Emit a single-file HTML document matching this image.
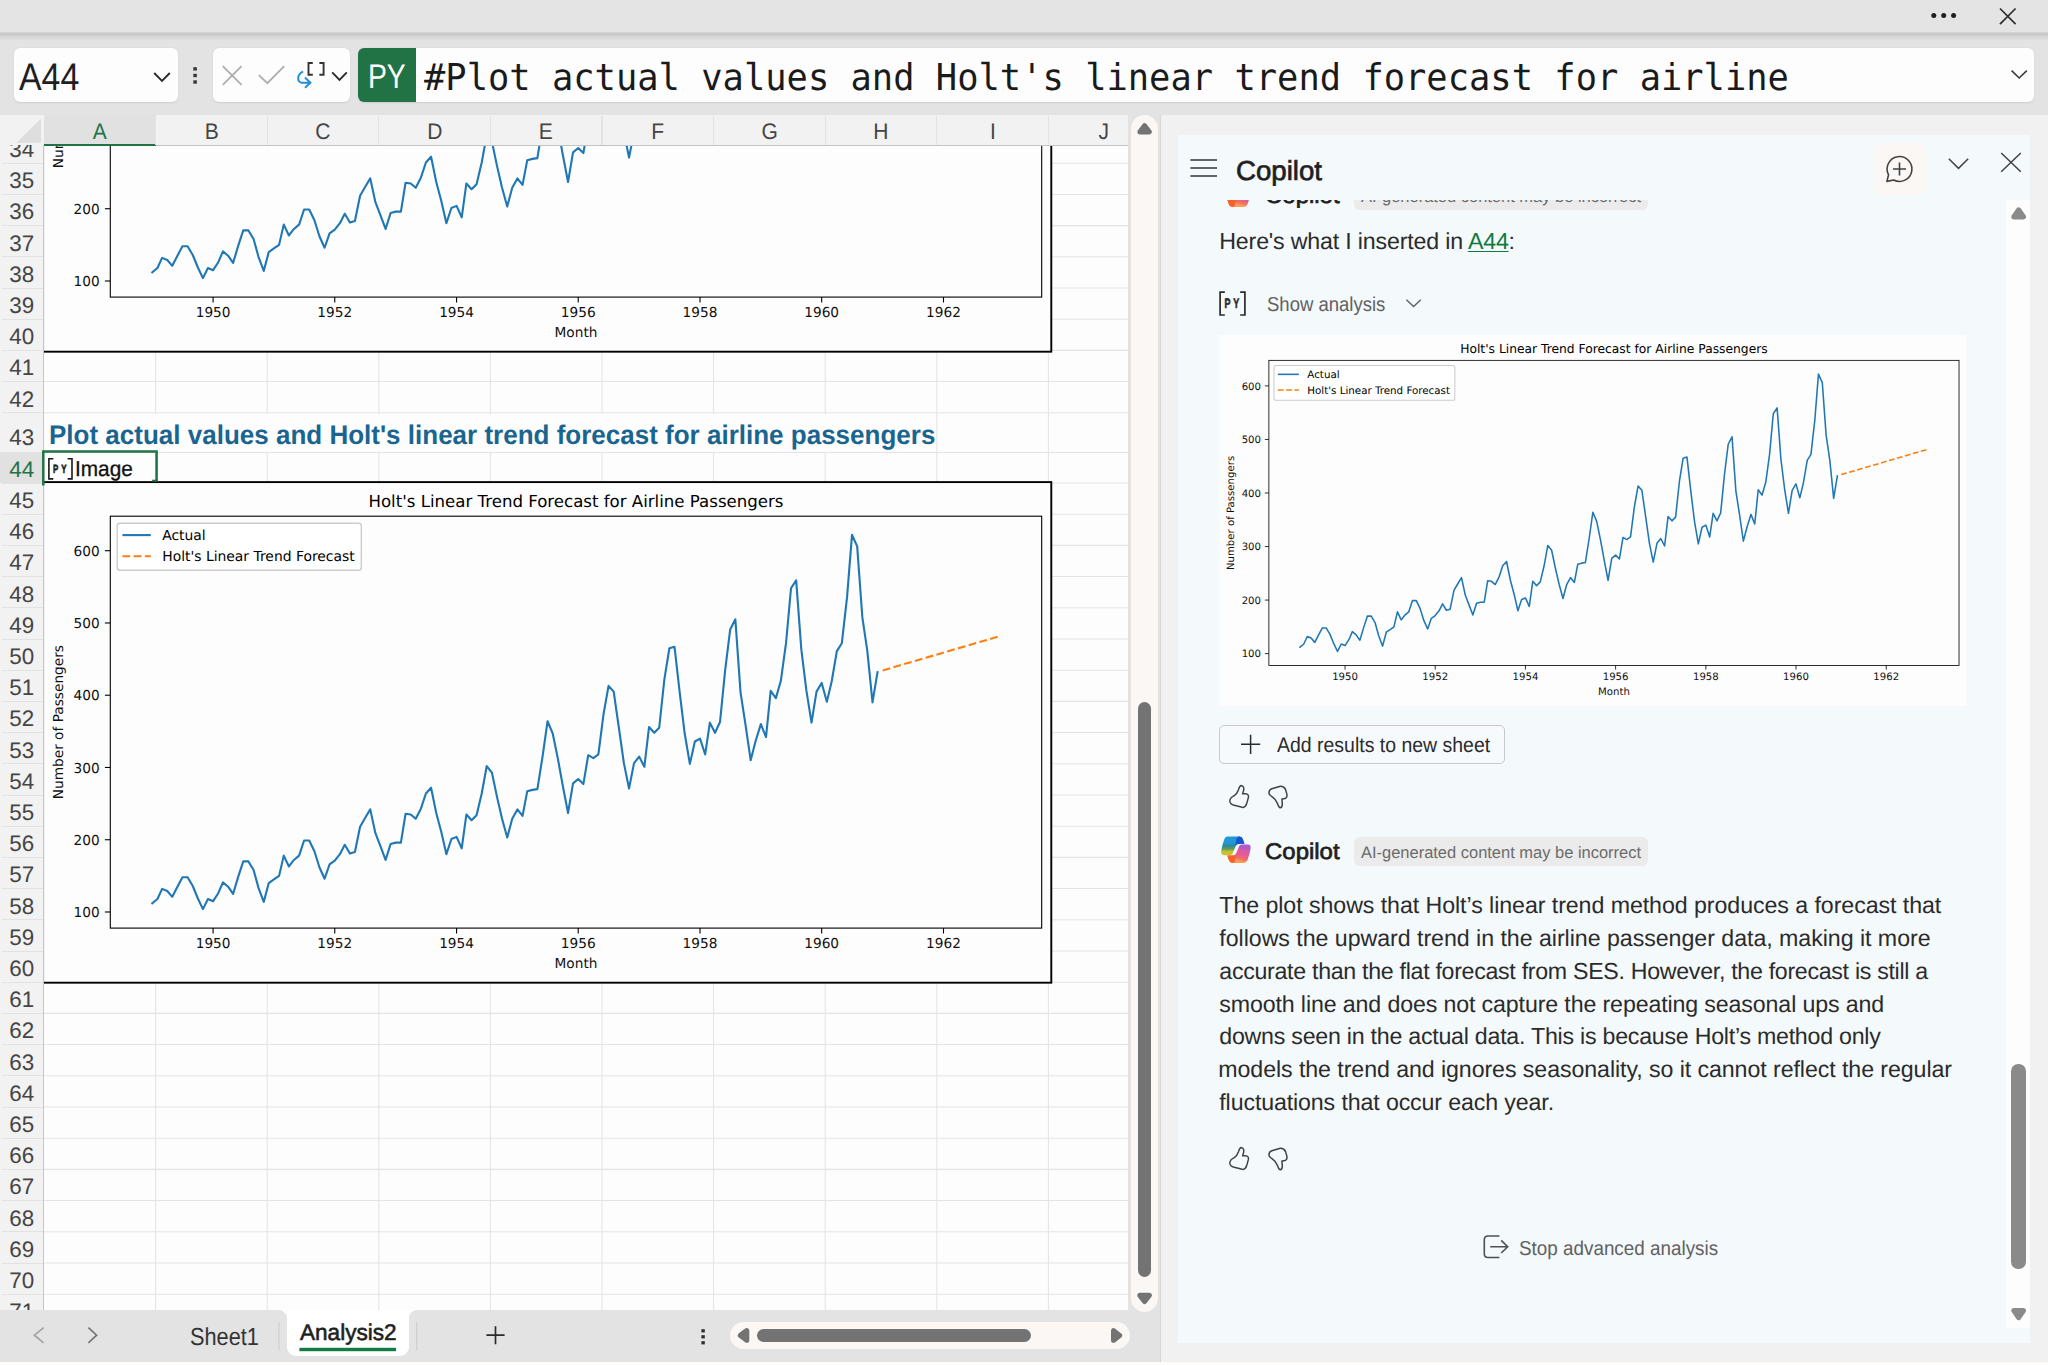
<!DOCTYPE html><html lang="en"><head><meta charset="utf-8"><title>Excel - Copilot</title><style>
*{box-sizing:border-box}
html,body{margin:0;padding:0}
body{width:2048px;height:1365px;overflow:hidden;background:#e3e3e3;font-family:"Liberation Sans", sans-serif;position:relative;color:#242424;text-rendering:geometricPrecision}
.abs{position:absolute}
.t{position:absolute;white-space:pre}
svg{position:absolute;overflow:visible}
</style></head><body>
<div class="abs" style="left:0;top:0;width:2048px;height:33px;background:#e4e4e4"></div>
<div class="abs" style="left:0;top:32.4px;width:2048px;height:8px;background:linear-gradient(#e1e1e1 0%,#c9c9c9 12%,#c8c8c8 40%,#d6d6d6 50%,#dadada 88%,#e3e3e3 100%)"></div>
<svg style="left:1920px;top:0" width="128" height="34" viewBox="1920 0 128 34"><g fill="#1f1f1f"><circle cx="1933.8" cy="15.6" r="2.5"/><circle cx="1943.7" cy="15.6" r="2.5"/><circle cx="1953.6" cy="15.6" r="2.5"/></g><path d="M2000 8.5 L2015.6 24.2 M2015.6 8.5 L2000 24.2" stroke="#2e2e2e" stroke-width="1.7" fill="none"/></svg>
<div class="abs" style="left:14px;top:47.8px;width:164px;height:54.7px;background:#fdfdfd;border-radius:6px;box-shadow:0 0.8px 1.6px rgba(0,0,0,.10)"></div>
<div class="t" style="font-family:'Liberation Sans',sans-serif;font-size:38.4px;line-height:43.00px;color:#1f1f1f;left:19.00px;top:55.75px;transform:scaleX(0.8829);transform-origin:0 0;">A44</div>
<svg style="left:150px;top:68px" width="24" height="18" viewBox="150 68 24 18"><path d="M154.2 73 L162 80.8 L169.8 73" stroke="#2b2b2b" stroke-width="1.9" fill="none"/></svg>
<svg style="left:190px;top:64px" width="10" height="24" viewBox="190 64 10 24"><g fill="#3a3a3a"><rect x="193.3" y="67.2" width="3.6" height="3.4"/><rect x="193.3" y="73.8" width="3.6" height="3.4"/><rect x="193.3" y="80.3" width="3.6" height="3.4"/></g></svg>
<div class="abs" style="left:212.9px;top:47.8px;width:137.2px;height:54.7px;background:#fdfdfd;border-radius:6px;box-shadow:0 0.8px 1.6px rgba(0,0,0,.10)"></div>
<svg style="left:212px;top:48px" width="140" height="55" viewBox="212 48 140 55">
<path d="M222.8 66.2 L241.6 84.8 M241.6 66.2 L222.8 84.8" stroke="#adadad" stroke-width="1.8" fill="none"/>
<path d="M258.8 75.2 L267.4 83.2 L284.2 66.2" stroke="#adadad" stroke-width="1.8" fill="none"/>
<path d="M303.2 71.6 C297.8 73.6 296 81 301.4 82.7 L309.6 82.7 M305 77.6 L310.4 82.7 L305 87.8" stroke="#2490dd" stroke-width="2" fill="none"/>
<path d="M312.8 63 L308.5 63 L308.5 74.7 L312.8 74.7 M319.4 63 L323.6 63 L323.6 74.7 L319.4 74.7" stroke="#333" stroke-width="1.9" fill="none"/>
<path d="M332.2 72.4 L339.5 79.8 L346.8 72.4" stroke="#2b2b2b" stroke-width="1.9" fill="none"/>
</svg>
<div class="abs" style="left:358px;top:47.8px;width:1675.8px;height:54.7px;background:#fdfdfd;border-radius:6px;box-shadow:0 0.8px 1.6px rgba(0,0,0,.10);overflow:hidden"><div class="abs" style="left:0;top:0;width:58px;height:55px;background:#217346"></div></div>
<div class="t" style="font-family:'Liberation Sans',sans-serif;font-size:34.3px;line-height:38.00px;color:#fff;left:368.35px;top:58.10px;transform:scaleX(0.8251);transform-origin:0 0;">PY</div>
<div class="t" style="font-family:'DejaVu Sans Mono','Liberation Mono',monospace;font-size:37px;line-height:43.00px;color:#1a1a1a;left:423.75px;top:56.00px;transform:scaleX(0.9574);transform-origin:0 0;">#Plot actual values and Holt's linear trend forecast for airline</div>
<svg style="left:2005px;top:64px" width="26" height="20" viewBox="2005 64 26 20"><path d="M2011.6 70.6 L2019.2 78 L2026.8 70.6" stroke="#3a3a3a" stroke-width="1.6" fill="none"/></svg>
<div class="abs" style="left:1160.6px;top:114.6px;width:887.4000000000001px;height:1250.4px;background:#f1f1f1"></div>
<div class="abs" style="left:0;top:1361.7px;width:2048px;height:4px;background:#fdfcfb"></div>
<div class="abs" style="left:1159.6px;top:114.6px;width:1.2px;height:1247.1000000000001px;background:#d6d6d6"></div>
<div class="abs" style="left:0;top:114.6px;width:1128.2px;height:1195.3000000000002px;background:#fdfdfd"></div>
<svg style="left:0;top:0" width="1128.2" height="1309.9" viewBox="0 0 1128.2 1309.9">
<g stroke="#e4e4e4" stroke-width="1.05">
<line x1="44" y1="163.2" x2="1128.2" y2="163.2"/>
<line x1="44" y1="194.4" x2="1128.2" y2="194.4"/>
<line x1="44" y1="225.6" x2="1128.2" y2="225.6"/>
<line x1="44" y1="256.8" x2="1128.2" y2="256.8"/>
<line x1="44" y1="288.0" x2="1128.2" y2="288.0"/>
<line x1="44" y1="319.2" x2="1128.2" y2="319.2"/>
<line x1="44" y1="350.4" x2="1128.2" y2="350.4"/>
<line x1="44" y1="381.6" x2="1128.2" y2="381.6"/>
<line x1="44" y1="412.8" x2="1128.2" y2="412.8"/>
<line x1="44" y1="452.5" x2="1128.2" y2="452.5"/>
<line x1="44" y1="483.0" x2="1128.2" y2="483.0"/>
<line x1="44" y1="514.2" x2="1128.2" y2="514.2"/>
<line x1="44" y1="545.4" x2="1128.2" y2="545.4"/>
<line x1="44" y1="576.6" x2="1128.2" y2="576.6"/>
<line x1="44" y1="607.8" x2="1128.2" y2="607.8"/>
<line x1="44" y1="639.0" x2="1128.2" y2="639.0"/>
<line x1="44" y1="670.2" x2="1128.2" y2="670.2"/>
<line x1="44" y1="701.4" x2="1128.2" y2="701.4"/>
<line x1="44" y1="732.6" x2="1128.2" y2="732.6"/>
<line x1="44" y1="763.8" x2="1128.2" y2="763.8"/>
<line x1="44" y1="795.0" x2="1128.2" y2="795.0"/>
<line x1="44" y1="826.2" x2="1128.2" y2="826.2"/>
<line x1="44" y1="857.4" x2="1128.2" y2="857.4"/>
<line x1="44" y1="888.6" x2="1128.2" y2="888.6"/>
<line x1="44" y1="919.8" x2="1128.2" y2="919.8"/>
<line x1="44" y1="951.0" x2="1128.2" y2="951.0"/>
<line x1="44" y1="982.2" x2="1128.2" y2="982.2"/>
<line x1="44" y1="1013.4" x2="1128.2" y2="1013.4"/>
<line x1="44" y1="1044.6" x2="1128.2" y2="1044.6"/>
<line x1="44" y1="1075.8" x2="1128.2" y2="1075.8"/>
<line x1="44" y1="1107.0" x2="1128.2" y2="1107.0"/>
<line x1="44" y1="1138.2" x2="1128.2" y2="1138.2"/>
<line x1="44" y1="1169.4" x2="1128.2" y2="1169.4"/>
<line x1="44" y1="1200.6" x2="1128.2" y2="1200.6"/>
<line x1="44" y1="1231.8" x2="1128.2" y2="1231.8"/>
<line x1="44" y1="1263.0" x2="1128.2" y2="1263.0"/>
<line x1="44" y1="1294.2" x2="1128.2" y2="1294.2"/>
<line x1="155.6" y1="145.4" x2="155.6" y2="1309.9"/>
<line x1="267.2" y1="145.4" x2="267.2" y2="1309.9"/>
<line x1="378.8" y1="145.4" x2="378.8" y2="1309.9"/>
<line x1="490.4" y1="145.4" x2="490.4" y2="1309.9"/>
<line x1="602.0" y1="145.4" x2="602.0" y2="1309.9"/>
<line x1="713.6" y1="145.4" x2="713.6" y2="1309.9"/>
<line x1="825.2" y1="145.4" x2="825.2" y2="1309.9"/>
<line x1="936.8" y1="145.4" x2="936.8" y2="1309.9"/>
<line x1="1048.4" y1="145.4" x2="1048.4" y2="1309.9"/>
</g></svg>
<div class="abs" style="left:44.6px;top:413.6px;width:891.4px;height:38.2px;background:#fdfdfd"></div>
<div class="t" style="font-family:'Liberation Sans',sans-serif;font-size:27px;line-height:30.00px;color:#1a6590;font-weight:bold;left:48.64px;top:419.70px;transform:scaleX(0.9632);transform-origin:0 0;">Plot actual values and Holt's linear trend forecast for airline passengers</div>
<div class="abs" style="left:0;top:145.4px;width:1128.2px;height:1164.5px;overflow:hidden">
<div class="abs" style="left:0;top:-145.4px;width:10px;height:10px">
<svg style="left:43.0px;top:-149.20000000000005px" width="1008.40" height="500.80" viewBox="0 0 1008.4 500.8"><rect x="0" y="0" width="1008.4" height="500.8" fill="#fdfdfd"/>
<g stroke="#000" stroke-width="1.1" fill="none">
<line x1="170.10" y1="446.10" x2="170.10" y2="451.50"/>
<line x1="291.75" y1="446.10" x2="291.75" y2="451.50"/>
<line x1="413.57" y1="446.10" x2="413.57" y2="451.50"/>
<line x1="535.22" y1="446.10" x2="535.22" y2="451.50"/>
<line x1="657.03" y1="446.10" x2="657.03" y2="451.50"/>
<line x1="778.68" y1="446.10" x2="778.68" y2="451.50"/>
<line x1="900.50" y1="446.10" x2="900.50" y2="451.50"/>
<line x1="61.90" y1="430.00" x2="67.30" y2="430.00"/>
<line x1="61.90" y1="357.74" x2="67.30" y2="357.74"/>
<line x1="61.90" y1="285.48" x2="67.30" y2="285.48"/>
<line x1="61.90" y1="213.22" x2="67.30" y2="213.22"/>
<line x1="61.90" y1="140.96" x2="67.30" y2="140.96"/>
<line x1="61.90" y1="68.70" x2="67.30" y2="68.70"/>
</g>
<g style="font-family:'DejaVu Sans','Liberation Sans',sans-serif;font-size:13.7px" fill="#111">
<text x="170.10" y="465.70" text-anchor="middle">1950</text>
<text x="291.75" y="465.70" text-anchor="middle">1952</text>
<text x="413.57" y="465.70" text-anchor="middle">1954</text>
<text x="535.22" y="465.70" text-anchor="middle">1956</text>
<text x="657.03" y="465.70" text-anchor="middle">1958</text>
<text x="778.68" y="465.70" text-anchor="middle">1960</text>
<text x="900.50" y="465.70" text-anchor="middle">1962</text>
<text x="56.70" y="435.20" text-anchor="end">100</text>
<text x="56.70" y="362.94" text-anchor="end">200</text>
<text x="533.00" y="485.70" text-anchor="middle">Month</text>
<text transform="translate(20.4 240.15) rotate(-90)" text-anchor="middle">Number of Passengers</text>
</g>
<polyline points="109.27,421.33 114.44,416.99 119.11,406.88 124.27,409.04 129.27,414.83 134.44,404.71 139.44,395.32 144.60,395.32 149.77,403.99 154.77,416.27 159.93,427.11 164.93,416.99 170.10,419.16 175.27,411.21 179.93,400.37 185.10,404.71 190.10,411.93 195.26,394.59 200.26,379.42 205.43,379.42 210.59,388.09 215.59,406.15 220.76,419.88 225.76,401.10 230.93,397.48 236.09,393.87 240.76,373.64 245.92,384.48 250.92,377.97 256.09,373.64 261.09,358.46 266.25,358.46 271.42,369.30 276.42,385.20 281.58,396.76 286.58,382.31 291.75,378.70 296.92,372.19 301.75,362.80 306.91,371.47 311.91,370.02 317.08,344.73 322.08,336.06 327.25,327.39 332.41,351.24 337.41,364.24 342.58,377.97 347.58,362.08 352.74,360.63 357.91,360.63 362.57,331.73 367.74,332.45 372.74,336.78 377.90,326.67 382.90,311.49 388.07,305.71 393.24,331.00 398.24,349.79 403.40,372.19 408.40,357.02 413.57,354.85 418.73,366.41 423.40,332.45 428.56,338.23 433.56,333.17 438.73,311.49 443.73,284.03 448.90,290.54 454.06,315.11 459.06,336.78 464.23,355.57 469.23,336.78 474.39,327.39 479.56,333.89 484.22,309.33 489.39,307.88 494.39,307.16 499.55,274.64 504.55,239.23 509.72,251.52 514.89,276.81 519.89,304.27 525.05,331.00 530.05,301.38 535.22,297.04 540.38,302.10 545.22,273.20 550.38,276.09 555.38,272.47 560.55,232.01 565.55,203.83 570.71,209.61 575.88,245.74 580.88,281.14 586.04,306.44 591.04,281.14 596.21,274.64 601.37,284.76 606.04,245.01 611.21,250.80 616.21,245.74 621.37,197.32 626.37,166.25 631.54,164.81 636.70,210.33 641.70,251.52 646.87,281.87 651.87,259.47 657.03,256.58 662.20,272.47 666.87,240.68 672.03,250.80 677.03,239.96 682.20,187.93 687.20,147.46 692.36,137.35 697.53,210.33 702.53,242.85 707.69,278.25 712.69,258.74 717.86,242.12 723.02,255.13 727.69,208.88 732.86,216.11 737.86,198.77 743.02,161.19 748.02,106.28 753.19,98.33 758.35,167.70 763.35,208.16 768.52,240.68 773.52,209.61 778.68,200.94 783.85,219.72 788.68,199.49 793.85,169.14 798.85,161.19 804.01,115.67 809.01,52.80 814.18,64.36 819.34,135.18 824.34,169.14 829.51,220.45 834.51,190.10" fill="none" stroke="#1f77b4" stroke-width="2.1" stroke-linejoin="round" stroke-linecap="square"/>
<rect x="67.30" y="34.20" width="931.40" height="411.90" fill="none" stroke="#000" stroke-width="1.1"/><rect x="0.1" y="0.1" width="1008.20" height="500.60" fill="none" stroke="#000" stroke-width="1.9"/></svg>
<svg style="left:43.0px;top:482.0px" width="1008.40" height="500.80" viewBox="0 0 1008.4 500.8"><rect x="0" y="0" width="1008.4" height="500.8" fill="#fdfdfd"/>
<g stroke="#000" stroke-width="1.1" fill="none">
<line x1="170.10" y1="446.10" x2="170.10" y2="451.50"/>
<line x1="291.75" y1="446.10" x2="291.75" y2="451.50"/>
<line x1="413.57" y1="446.10" x2="413.57" y2="451.50"/>
<line x1="535.22" y1="446.10" x2="535.22" y2="451.50"/>
<line x1="657.03" y1="446.10" x2="657.03" y2="451.50"/>
<line x1="778.68" y1="446.10" x2="778.68" y2="451.50"/>
<line x1="900.50" y1="446.10" x2="900.50" y2="451.50"/>
<line x1="61.90" y1="430.00" x2="67.30" y2="430.00"/>
<line x1="61.90" y1="357.74" x2="67.30" y2="357.74"/>
<line x1="61.90" y1="285.48" x2="67.30" y2="285.48"/>
<line x1="61.90" y1="213.22" x2="67.30" y2="213.22"/>
<line x1="61.90" y1="140.96" x2="67.30" y2="140.96"/>
<line x1="61.90" y1="68.70" x2="67.30" y2="68.70"/>
</g>
<g style="font-family:'DejaVu Sans','Liberation Sans',sans-serif;font-size:13.7px" fill="#111">
<text x="170.10" y="465.70" text-anchor="middle">1950</text>
<text x="291.75" y="465.70" text-anchor="middle">1952</text>
<text x="413.57" y="465.70" text-anchor="middle">1954</text>
<text x="535.22" y="465.70" text-anchor="middle">1956</text>
<text x="657.03" y="465.70" text-anchor="middle">1958</text>
<text x="778.68" y="465.70" text-anchor="middle">1960</text>
<text x="900.50" y="465.70" text-anchor="middle">1962</text>
<text x="56.70" y="435.20" text-anchor="end">100</text>
<text x="56.70" y="362.94" text-anchor="end">200</text>
<text x="56.70" y="290.68" text-anchor="end">300</text>
<text x="56.70" y="218.42" text-anchor="end">400</text>
<text x="56.70" y="146.16" text-anchor="end">500</text>
<text x="56.70" y="73.90" text-anchor="end">600</text>
<text x="533.00" y="485.70" text-anchor="middle">Month</text>
<text transform="translate(20.4 240.15) rotate(-90)" text-anchor="middle">Number of Passengers</text>
</g>
<text x="533.00" y="24.70" text-anchor="middle" style="font-family:'DejaVu Sans','Liberation Sans',sans-serif;font-size:16.6px" fill="#000">Holt's Linear Trend Forecast for Airline Passengers</text>
<polyline points="109.27,421.33 114.44,416.99 119.11,406.88 124.27,409.04 129.27,414.83 134.44,404.71 139.44,395.32 144.60,395.32 149.77,403.99 154.77,416.27 159.93,427.11 164.93,416.99 170.10,419.16 175.27,411.21 179.93,400.37 185.10,404.71 190.10,411.93 195.26,394.59 200.26,379.42 205.43,379.42 210.59,388.09 215.59,406.15 220.76,419.88 225.76,401.10 230.93,397.48 236.09,393.87 240.76,373.64 245.92,384.48 250.92,377.97 256.09,373.64 261.09,358.46 266.25,358.46 271.42,369.30 276.42,385.20 281.58,396.76 286.58,382.31 291.75,378.70 296.92,372.19 301.75,362.80 306.91,371.47 311.91,370.02 317.08,344.73 322.08,336.06 327.25,327.39 332.41,351.24 337.41,364.24 342.58,377.97 347.58,362.08 352.74,360.63 357.91,360.63 362.57,331.73 367.74,332.45 372.74,336.78 377.90,326.67 382.90,311.49 388.07,305.71 393.24,331.00 398.24,349.79 403.40,372.19 408.40,357.02 413.57,354.85 418.73,366.41 423.40,332.45 428.56,338.23 433.56,333.17 438.73,311.49 443.73,284.03 448.90,290.54 454.06,315.11 459.06,336.78 464.23,355.57 469.23,336.78 474.39,327.39 479.56,333.89 484.22,309.33 489.39,307.88 494.39,307.16 499.55,274.64 504.55,239.23 509.72,251.52 514.89,276.81 519.89,304.27 525.05,331.00 530.05,301.38 535.22,297.04 540.38,302.10 545.22,273.20 550.38,276.09 555.38,272.47 560.55,232.01 565.55,203.83 570.71,209.61 575.88,245.74 580.88,281.14 586.04,306.44 591.04,281.14 596.21,274.64 601.37,284.76 606.04,245.01 611.21,250.80 616.21,245.74 621.37,197.32 626.37,166.25 631.54,164.81 636.70,210.33 641.70,251.52 646.87,281.87 651.87,259.47 657.03,256.58 662.20,272.47 666.87,240.68 672.03,250.80 677.03,239.96 682.20,187.93 687.20,147.46 692.36,137.35 697.53,210.33 702.53,242.85 707.69,278.25 712.69,258.74 717.86,242.12 723.02,255.13 727.69,208.88 732.86,216.11 737.86,198.77 743.02,161.19 748.02,106.28 753.19,98.33 758.35,167.70 763.35,208.16 768.52,240.68 773.52,209.61 778.68,200.94 783.85,219.72 788.68,199.49 793.85,169.14 798.85,161.19 804.01,115.67 809.01,52.80 814.18,64.36 819.34,135.18 824.34,169.14 829.51,220.45 834.51,190.10" fill="none" stroke="#1f77b4" stroke-width="2.1" stroke-linejoin="round" stroke-linecap="square"/>
<line x1="839.67" y1="188.40" x2="956.16" y2="154.30" stroke="#ff7f0e" stroke-width="2.1" stroke-dasharray="7.8 3.4"/>
<rect x="67.30" y="34.20" width="931.40" height="411.90" fill="none" stroke="#000" stroke-width="1.1"/>
<rect x="74.20" y="41.30" width="244.10" height="46.90" rx="2.8" fill="#fff" fill-opacity="0.8" stroke="#ccc" stroke-width="1.4"/>
<line x1="79.40" y1="53.10" x2="107.80" y2="53.10" stroke="#1f77b4" stroke-width="2.1"/>
<line x1="79.40" y1="74.20" x2="107.80" y2="74.20" stroke="#ff7f0e" stroke-width="2.1" stroke-dasharray="7.8 3.4"/>
<g style="font-family:'DejaVu Sans','Liberation Sans',sans-serif;font-size:13.9px" fill="#000"><text x="119.20" y="58.10">Actual</text><text x="119.20" y="79.00">Holt's Linear Trend Forecast</text></g><rect x="0.1" y="0.1" width="1008.20" height="500.60" fill="none" stroke="#000" stroke-width="1.9"/></svg>
<svg style="left:46px;top:456px" width="30" height="26" viewBox="46 456 30 26"><path d="M53.29 458.80 L48.90 458.80 L48.90 478.90 L53.29 478.90 M67.61 458.80 L72.00 458.80 L72.00 478.90 L67.61 478.90" stroke="#1a1a1a" stroke-width="1.6" fill="none"/><text transform="translate(53.08 473.07) scale(0.66 1)" style="font-family:'Liberation Sans',sans-serif;font-size:11.98px;font-weight:bold;letter-spacing:4.22px" fill="#1a1a1a" stroke="#1a1a1a" stroke-width="0.6" stroke-linejoin="round">PY</text></svg>
<div class="t" style="font-family:'Liberation Sans',sans-serif;font-size:21.6px;line-height:25.00px;color:#111;left:75.27px;top:456.30px;transform:scaleX(0.9637);transform-origin:0 0;-webkit-text-stroke:0.3px #111;">Image</div>
</div></div>
<div class="abs" style="left:0;top:114.6px;width:1128.2px;height:31.30000000000001px;background:#f2f2f2;border-bottom:1.2px solid #c4c4c4"></div>
<div class="abs" style="left:44.0px;top:114.6px;width:111.6px;height:31.70000000000001px;background:#e1e1e1;border-bottom:2.9px solid #217346"></div>
<div class="t" style="left:44.0px;top:118.55px;width:111.6px;text-align:center;font-size:22.6px;line-height:25.24px;color:#217346;transform:scaleX(0.93)">A</div>
<div class="t" style="left:155.6px;top:118.55px;width:111.6px;text-align:center;font-size:22.6px;line-height:25.24px;color:#454545;transform:scaleX(0.93)">B</div>
<div class="abs" style="left:155.0px;top:115.6px;width:1.2px;height:29.80000000000001px;background:#e3e3e3"></div>
<div class="t" style="left:267.2px;top:118.55px;width:111.6px;text-align:center;font-size:22.6px;line-height:25.24px;color:#454545;transform:scaleX(0.93)">C</div>
<div class="abs" style="left:266.6px;top:115.6px;width:1.2px;height:29.80000000000001px;background:#e3e3e3"></div>
<div class="t" style="left:378.8px;top:118.55px;width:111.6px;text-align:center;font-size:22.6px;line-height:25.24px;color:#454545;transform:scaleX(0.93)">D</div>
<div class="abs" style="left:378.2px;top:115.6px;width:1.2px;height:29.80000000000001px;background:#e3e3e3"></div>
<div class="t" style="left:490.4px;top:118.55px;width:111.6px;text-align:center;font-size:22.6px;line-height:25.24px;color:#454545;transform:scaleX(0.93)">E</div>
<div class="abs" style="left:489.8px;top:115.6px;width:1.2px;height:29.80000000000001px;background:#e3e3e3"></div>
<div class="t" style="left:602.0px;top:118.55px;width:111.6px;text-align:center;font-size:22.6px;line-height:25.24px;color:#454545;transform:scaleX(0.93)">F</div>
<div class="abs" style="left:601.4px;top:115.6px;width:1.2px;height:29.80000000000001px;background:#e3e3e3"></div>
<div class="t" style="left:713.6px;top:118.55px;width:111.6px;text-align:center;font-size:22.6px;line-height:25.24px;color:#454545;transform:scaleX(0.93)">G</div>
<div class="abs" style="left:713.0px;top:115.6px;width:1.2px;height:29.80000000000001px;background:#e3e3e3"></div>
<div class="t" style="left:825.2px;top:118.55px;width:111.6px;text-align:center;font-size:22.6px;line-height:25.24px;color:#454545;transform:scaleX(0.93)">H</div>
<div class="abs" style="left:824.6px;top:115.6px;width:1.2px;height:29.80000000000001px;background:#e3e3e3"></div>
<div class="t" style="left:936.8px;top:118.55px;width:111.6px;text-align:center;font-size:22.6px;line-height:25.24px;color:#454545;transform:scaleX(0.93)">I</div>
<div class="abs" style="left:936.2px;top:115.6px;width:1.2px;height:29.80000000000001px;background:#e3e3e3"></div>
<div class="t" style="left:1048.4px;top:118.55px;width:111.6px;text-align:center;font-size:22.6px;line-height:25.24px;color:#454545;transform:scaleX(0.93)">J</div>
<div class="abs" style="left:1047.8px;top:115.6px;width:1.2px;height:29.80000000000001px;background:#e3e3e3"></div>
<svg style="left:0;top:114.6px" width="44" height="31" viewBox="0 114.6 44 31"><path d="M16.4 142.4 L41 118 L41 142.4 Z" fill="#dedede"/></svg>
<div class="abs" style="left:0;top:145.4px;width:43.6px;height:1164.5px;background:#f2f2f2;border-right:1.5px solid #c6c6c6;overflow:hidden">
<div class="t" style="left:0;top:-8.47px;width:43.6px;text-align:center;font-size:22.4px;line-height:25.02px;color:#454545">34</div>
<div class="abs" style="left:2px;top:17.4px;width:41px;height:1.1px;background:#e2e2e2"></div>
<div class="t" style="left:0;top:22.73px;width:43.6px;text-align:center;font-size:22.4px;line-height:25.02px;color:#454545">35</div>
<div class="abs" style="left:2px;top:48.6px;width:41px;height:1.1px;background:#e2e2e2"></div>
<div class="t" style="left:0;top:53.93px;width:43.6px;text-align:center;font-size:22.4px;line-height:25.02px;color:#454545">36</div>
<div class="abs" style="left:2px;top:79.8px;width:41px;height:1.1px;background:#e2e2e2"></div>
<div class="t" style="left:0;top:85.13px;width:43.6px;text-align:center;font-size:22.4px;line-height:25.02px;color:#454545">37</div>
<div class="abs" style="left:2px;top:111.0px;width:41px;height:1.1px;background:#e2e2e2"></div>
<div class="t" style="left:0;top:116.33px;width:43.6px;text-align:center;font-size:22.4px;line-height:25.02px;color:#454545">38</div>
<div class="abs" style="left:2px;top:142.2px;width:41px;height:1.1px;background:#e2e2e2"></div>
<div class="t" style="left:0;top:147.53px;width:43.6px;text-align:center;font-size:22.4px;line-height:25.02px;color:#454545">39</div>
<div class="abs" style="left:2px;top:173.4px;width:41px;height:1.1px;background:#e2e2e2"></div>
<div class="t" style="left:0;top:178.73px;width:43.6px;text-align:center;font-size:22.4px;line-height:25.02px;color:#454545">40</div>
<div class="abs" style="left:2px;top:204.6px;width:41px;height:1.1px;background:#e2e2e2"></div>
<div class="t" style="left:0;top:209.93px;width:43.6px;text-align:center;font-size:22.4px;line-height:25.02px;color:#454545">41</div>
<div class="abs" style="left:2px;top:235.8px;width:41px;height:1.1px;background:#e2e2e2"></div>
<div class="t" style="left:0;top:241.13px;width:43.6px;text-align:center;font-size:22.4px;line-height:25.02px;color:#454545">42</div>
<div class="abs" style="left:2px;top:267.0px;width:41px;height:1.1px;background:#e2e2e2"></div>
<div class="t" style="left:0;top:279.43px;width:43.6px;text-align:center;font-size:22.4px;line-height:25.02px;color:#454545">43</div>
<div class="abs" style="left:2px;top:306.7px;width:41px;height:1.1px;background:#e2e2e2"></div>
<div class="abs" style="left:0;top:307.1px;width:43px;height:30.5px;background:#e1e1e1"></div>
<div class="t" style="left:0;top:311.33px;width:43.6px;text-align:center;font-size:22.4px;line-height:25.02px;color:#217346">44</div>
<div class="abs" style="left:2px;top:337.2px;width:41px;height:1.1px;background:#e2e2e2"></div>
<div class="t" style="left:0;top:342.53px;width:43.6px;text-align:center;font-size:22.4px;line-height:25.02px;color:#454545">45</div>
<div class="abs" style="left:2px;top:368.4px;width:41px;height:1.1px;background:#e2e2e2"></div>
<div class="t" style="left:0;top:373.73px;width:43.6px;text-align:center;font-size:22.4px;line-height:25.02px;color:#454545">46</div>
<div class="abs" style="left:2px;top:399.6px;width:41px;height:1.1px;background:#e2e2e2"></div>
<div class="t" style="left:0;top:404.93px;width:43.6px;text-align:center;font-size:22.4px;line-height:25.02px;color:#454545">47</div>
<div class="abs" style="left:2px;top:430.8px;width:41px;height:1.1px;background:#e2e2e2"></div>
<div class="t" style="left:0;top:436.13px;width:43.6px;text-align:center;font-size:22.4px;line-height:25.02px;color:#454545">48</div>
<div class="abs" style="left:2px;top:462.0px;width:41px;height:1.1px;background:#e2e2e2"></div>
<div class="t" style="left:0;top:467.33px;width:43.6px;text-align:center;font-size:22.4px;line-height:25.02px;color:#454545">49</div>
<div class="abs" style="left:2px;top:493.2px;width:41px;height:1.1px;background:#e2e2e2"></div>
<div class="t" style="left:0;top:498.53px;width:43.6px;text-align:center;font-size:22.4px;line-height:25.02px;color:#454545">50</div>
<div class="abs" style="left:2px;top:524.4px;width:41px;height:1.1px;background:#e2e2e2"></div>
<div class="t" style="left:0;top:529.73px;width:43.6px;text-align:center;font-size:22.4px;line-height:25.02px;color:#454545">51</div>
<div class="abs" style="left:2px;top:555.6px;width:41px;height:1.1px;background:#e2e2e2"></div>
<div class="t" style="left:0;top:560.93px;width:43.6px;text-align:center;font-size:22.4px;line-height:25.02px;color:#454545">52</div>
<div class="abs" style="left:2px;top:586.8px;width:41px;height:1.1px;background:#e2e2e2"></div>
<div class="t" style="left:0;top:592.13px;width:43.6px;text-align:center;font-size:22.4px;line-height:25.02px;color:#454545">53</div>
<div class="abs" style="left:2px;top:618.0px;width:41px;height:1.1px;background:#e2e2e2"></div>
<div class="t" style="left:0;top:623.33px;width:43.6px;text-align:center;font-size:22.4px;line-height:25.02px;color:#454545">54</div>
<div class="abs" style="left:2px;top:649.2px;width:41px;height:1.1px;background:#e2e2e2"></div>
<div class="t" style="left:0;top:654.53px;width:43.6px;text-align:center;font-size:22.4px;line-height:25.02px;color:#454545">55</div>
<div class="abs" style="left:2px;top:680.4px;width:41px;height:1.1px;background:#e2e2e2"></div>
<div class="t" style="left:0;top:685.73px;width:43.6px;text-align:center;font-size:22.4px;line-height:25.02px;color:#454545">56</div>
<div class="abs" style="left:2px;top:711.6px;width:41px;height:1.1px;background:#e2e2e2"></div>
<div class="t" style="left:0;top:716.93px;width:43.6px;text-align:center;font-size:22.4px;line-height:25.02px;color:#454545">57</div>
<div class="abs" style="left:2px;top:742.8px;width:41px;height:1.1px;background:#e2e2e2"></div>
<div class="t" style="left:0;top:748.13px;width:43.6px;text-align:center;font-size:22.4px;line-height:25.02px;color:#454545">58</div>
<div class="abs" style="left:2px;top:774.0px;width:41px;height:1.1px;background:#e2e2e2"></div>
<div class="t" style="left:0;top:779.33px;width:43.6px;text-align:center;font-size:22.4px;line-height:25.02px;color:#454545">59</div>
<div class="abs" style="left:2px;top:805.2px;width:41px;height:1.1px;background:#e2e2e2"></div>
<div class="t" style="left:0;top:810.53px;width:43.6px;text-align:center;font-size:22.4px;line-height:25.02px;color:#454545">60</div>
<div class="abs" style="left:2px;top:836.4px;width:41px;height:1.1px;background:#e2e2e2"></div>
<div class="t" style="left:0;top:841.73px;width:43.6px;text-align:center;font-size:22.4px;line-height:25.02px;color:#454545">61</div>
<div class="abs" style="left:2px;top:867.6px;width:41px;height:1.1px;background:#e2e2e2"></div>
<div class="t" style="left:0;top:872.93px;width:43.6px;text-align:center;font-size:22.4px;line-height:25.02px;color:#454545">62</div>
<div class="abs" style="left:2px;top:898.8px;width:41px;height:1.1px;background:#e2e2e2"></div>
<div class="t" style="left:0;top:904.13px;width:43.6px;text-align:center;font-size:22.4px;line-height:25.02px;color:#454545">63</div>
<div class="abs" style="left:2px;top:930.0px;width:41px;height:1.1px;background:#e2e2e2"></div>
<div class="t" style="left:0;top:935.33px;width:43.6px;text-align:center;font-size:22.4px;line-height:25.02px;color:#454545">64</div>
<div class="abs" style="left:2px;top:961.2px;width:41px;height:1.1px;background:#e2e2e2"></div>
<div class="t" style="left:0;top:966.53px;width:43.6px;text-align:center;font-size:22.4px;line-height:25.02px;color:#454545">65</div>
<div class="abs" style="left:2px;top:992.4px;width:41px;height:1.1px;background:#e2e2e2"></div>
<div class="t" style="left:0;top:997.73px;width:43.6px;text-align:center;font-size:22.4px;line-height:25.02px;color:#454545">66</div>
<div class="abs" style="left:2px;top:1023.6px;width:41px;height:1.1px;background:#e2e2e2"></div>
<div class="t" style="left:0;top:1028.93px;width:43.6px;text-align:center;font-size:22.4px;line-height:25.02px;color:#454545">67</div>
<div class="abs" style="left:2px;top:1054.8px;width:41px;height:1.1px;background:#e2e2e2"></div>
<div class="t" style="left:0;top:1060.13px;width:43.6px;text-align:center;font-size:22.4px;line-height:25.02px;color:#454545">68</div>
<div class="abs" style="left:2px;top:1086.0px;width:41px;height:1.1px;background:#e2e2e2"></div>
<div class="t" style="left:0;top:1091.33px;width:43.6px;text-align:center;font-size:22.4px;line-height:25.02px;color:#454545">69</div>
<div class="abs" style="left:2px;top:1117.2px;width:41px;height:1.1px;background:#e2e2e2"></div>
<div class="t" style="left:0;top:1122.53px;width:43.6px;text-align:center;font-size:22.4px;line-height:25.02px;color:#454545">70</div>
<div class="abs" style="left:2px;top:1148.4px;width:41px;height:1.1px;background:#e2e2e2"></div>
<div class="t" style="left:0;top:1153.73px;width:43.6px;text-align:center;font-size:22.4px;line-height:25.02px;color:#454545">71</div>
<div class="abs" style="left:2px;top:1179.6px;width:41px;height:1.1px;background:#e2e2e2"></div>
</div>
<svg style="left:40px;top:448px" width="120" height="40" viewBox="40 448 120 40"><path d="M43.3 485.5 L43.3 451.55 L156.6 451.55 L156.6 481.4" stroke="#217346" stroke-width="2.5" fill="none"/><rect x="152.1" y="479.7" width="5.8" height="1.8" fill="#217346"/></svg>
<div class="abs" style="left:1130.6px;top:114.6px;width:27.8px;height:1197.4px;background:#faf7f4;border-radius:14px"></div>
<div class="abs" style="left:1138.4px;top:702px;width:13px;height:574.6px;background:#737373;border-radius:6.5px"></div>
<svg style="left:1130px;top:114px" width="30" height="1200" viewBox="1130 114 30 1200"><path d="M1144.60 125.80 L1149.20 131.80 L1140.00 131.80 Z" fill="#737373" stroke="#737373" stroke-width="5.2" stroke-linejoin="round"/><path d="M1144.55 1301.40 L1149.20 1295.40 L1139.90 1295.40 Z" fill="#737373" stroke="#737373" stroke-width="5.2" stroke-linejoin="round"/></svg>
<div class="abs" style="left:286.6px;top:1309.9px;width:122.6px;height:45.8px;background:#fff;border-radius:0 0 9px 9px"></div>
<svg style="left:0;top:1305px" width="1160" height="58" viewBox="0 1305 1160 58"><path d="M278.6 1309.9 L286.6 1309.9 L286.6 1317.9 A8 8 0 0 0 278.6 1309.9 Z" fill="#fff"/><path d="M417.2 1309.9 L409.2 1309.9 L409.2 1317.9 A8 8 0 0 1 417.2 1309.9 Z" fill="#fff"/><path d="M43.6 1327.6 L34.4 1335.2 L43.6 1342.8" stroke="#a3a3a3" stroke-width="1.7" fill="none"/><path d="M88.4 1327.6 L96.6 1335.2 L88.4 1342.8" stroke="#767676" stroke-width="1.7" fill="none"/><path d="M278.9 1322 L278.9 1350.4 M416.6 1322 L416.6 1350.4" stroke="#cfcfcf" stroke-width="1.2" fill="none"/><path d="M486.4 1335.2 L504.6 1335.2 M495.5 1326.2 L495.5 1344.2" stroke="#2b2b2b" stroke-width="1.7" fill="none"/><g fill="#2e2e2e"><rect x="701.4" y="1329.2" width="3.4" height="3.2"/><rect x="701.4" y="1335.2" width="3.4" height="3.2"/><rect x="701.4" y="1341.2" width="3.4" height="3.2"/></g><rect x="299.4" y="1347.8" width="96.6" height="3.4" fill="#107c41"/></svg>
<div class="t" style="font-family:'Liberation Sans',sans-serif;font-size:24.6px;line-height:27.00px;color:#333;left:189.52px;top:1324.40px;transform:scaleX(0.8837);transform-origin:0 0;">Sheet1</div>
<div class="t" style="font-family:'Liberation Sans',sans-serif;font-size:22.6px;line-height:25.00px;color:#1f1f1f;left:299.80px;top:1320.40px;transform:scaleX(0.9986);transform-origin:0 0;-webkit-text-stroke:0.6px #1f1f1f;">Analysis2</div>
<div class="abs" style="left:729.8px;top:1321.6px;width:400.6px;height:27.6px;background:#faf7f4;border-radius:14px"></div>
<div class="abs" style="left:757.4px;top:1329px;width:273.4px;height:13px;background:#737373;border-radius:6.5px"></div>
<svg style="left:729px;top:1321px" width="402" height="29" viewBox="729 1321 402 29"><path d="M740.40 1335.45 L746.70 1330.70 L746.70 1340.20 Z" fill="#737373" stroke="#737373" stroke-width="5.2" stroke-linejoin="round"/><path d="M1119.60 1335.45 L1113.60 1330.70 L1113.60 1340.20 Z" fill="#737373" stroke="#737373" stroke-width="5.2" stroke-linejoin="round"/></svg>
<div class="abs" style="left:1177.8px;top:134.8px;width:852.5px;height:1208.2px;background:#f4f9fc"></div>
<svg style="left:1185px;top:140px" width="850" height="60" viewBox="1185 140 850 60"><path d="M1190.4 160 L1217 160 M1190.4 168 L1217 168 M1190.4 176 L1217 176" stroke="#333" stroke-width="1.5" fill="none"/><rect x="1873" y="143" width="53.2" height="52" rx="7" fill="#faf7f4"/><path d="M1888.55 174.82 A12.4 12.4 0 1 1 1893.68 179.95 L1886.90 181.40 Z" stroke="#424242" stroke-width="1.6" fill="none" stroke-linejoin="round"/><path d="M1893 169 L1906 169 M1899.5 162.6 L1899.5 175.4" stroke="#424242" stroke-width="1.6" fill="none"/><path d="M1948.8 158.8 L1958.5 168.4 L1968.2 158.8" stroke="#424242" stroke-width="1.5" fill="none"/><path d="M2001.2 153 L2020.8 171.8 M2020.8 153 L2001.2 171.8" stroke="#424242" stroke-width="1.5" fill="none"/></svg>
<div class="t" style="font-family:'Liberation Sans',sans-serif;font-size:27.4px;line-height:31.00px;color:#1f1f1f;left:1236.39px;top:154.60px;transform:scaleX(1.0088);transform-origin:0 0;-webkit-text-stroke:0.7px #1f1f1f;">Copilot</div>
<div class="abs" style="left:2006.2px;top:199.7px;width:24.2px;height:1128.4px;background:#fdfdfd"></div>
<div class="abs" style="left:2011.4px;top:1063.6px;width:14.4px;height:205.8px;background:#8a8a8a;border-radius:7.2px"></div>
<svg style="left:2006px;top:199px" width="25" height="1130" viewBox="2006 199 25 1130"><path d="M2018.65 210.00 L2023.40 216.80 L2013.90 216.80 Z" fill="#8a8a8a" stroke="#8a8a8a" stroke-width="5.2" stroke-linejoin="round"/><path d="M2018.65 1317.60 L2023.40 1310.60 L2013.90 1310.60 Z" fill="#8a8a8a" stroke="#8a8a8a" stroke-width="5.2" stroke-linejoin="round"/></svg>
<div class="abs" style="left:1177.8px;top:199.7px;width:828.4000000000001px;height:1143.3px;overflow:hidden">
<div class="abs" style="left:-1177.8px;top:-199.7px;width:10px;height:10px">
<div class="abs" style="left:1219px;top:178.20px;width:34px;height:32px"><div class="abs" style="left:0;top:0;width:34px;height:32px;background:linear-gradient(180deg,#2098d8 0px,#2098d8 2.5px,#2596d6 9px,#2a8a9b 11.8px,#5a9b60 14.8px,#c9c22a 17.6px,#cbc32a 21.2px);clip-path:path('M 8.40 2.50 L 20.60 2.50 Q 23.20 2.60 24.00 5.40 L 25.60 10.00 L 19.60 10.00 Q 17.40 10.00 16.60 12.20 L 13.60 19.40 Q 12.80 21.20 10.80 21.20 L 5.40 21.20 Q 1.60 21.00 2.20 17.00 Q 3.20 11.00 5.20 5.60 Q 6.20 2.60 8.40 2.50 Z')"></div><div class="abs" style="left:0;top:0;width:34px;height:32px;background:#1a53d0;clip-path:path('M 17.00 2.50 L 20.60 2.50 Q 23.20 2.60 24.00 5.40 L 25.40 9.80 L 19.40 9.90 Q 17.20 10.00 16.20 12.00 L 17.40 5.00 Q 17.60 3.00 19.60 2.50 Z')"></div><div class="abs" style="left:0;top:0;width:34px;height:32px;background:linear-gradient(195deg,#b05acd 0%,#b05acd 40%,#e0589a 48%,#e65c96 60%,#f2705e 68%,#ff9f55 76%,#ff9f55 100%);clip-path:path('M 22.80 10.40 L 28.80 10.40 Q 32.20 10.60 31.60 14.40 Q 30.60 20.40 28.60 25.80 Q 27.40 28.80 24.80 28.90 L 13.20 28.90 Q 10.60 28.80 9.80 26.00 L 8.20 21.40 L 14.20 21.40 Q 16.40 21.40 17.20 19.20 L 20.20 12.00 Q 21.00 10.40 22.80 10.40 Z')"></div><div class="abs" style="left:0;top:0;width:34px;height:32px;background:#f9612a;clip-path:path('M 8.40 21.40 L 14.20 21.40 Q 16.40 21.40 17.40 19.40 L 16.00 26.40 Q 15.80 28.40 13.80 28.90 L 13.20 28.90 Q 10.60 28.80 9.80 26.00 Z')"></div></div>
<div class="t" style="font-family:'Liberation Sans',sans-serif;font-size:22.6px;line-height:25.00px;color:#1f1f1f;left:1264.74px;top:182.70px;transform:scaleX(1.0606);transform-origin:0 0;-webkit-text-stroke:0.7px #1f1f1f;">Copilot</div>
<div class="abs" style="left:1353.9px;top:180.70px;width:294.6px;height:29.6px;background:#ebebeb;border-radius:6px"></div>
<div class="t" style="font-family:'Liberation Sans',sans-serif;font-size:16.6px;line-height:19.00px;color:#6b6b6b;left:1361.00px;top:187.30px;transform:scaleX(0.9921);transform-origin:0 0;">AI-generated content may be incorrect</div>
</div></div>
<div class="abs" style="left:1219px;top:834.00px;width:34px;height:32px"><div class="abs" style="left:0;top:0;width:34px;height:32px;background:linear-gradient(180deg,#2098d8 0px,#2098d8 2.5px,#2596d6 9px,#2a8a9b 11.8px,#5a9b60 14.8px,#c9c22a 17.6px,#cbc32a 21.2px);clip-path:path('M 8.40 2.50 L 20.60 2.50 Q 23.20 2.60 24.00 5.40 L 25.60 10.00 L 19.60 10.00 Q 17.40 10.00 16.60 12.20 L 13.60 19.40 Q 12.80 21.20 10.80 21.20 L 5.40 21.20 Q 1.60 21.00 2.20 17.00 Q 3.20 11.00 5.20 5.60 Q 6.20 2.60 8.40 2.50 Z')"></div><div class="abs" style="left:0;top:0;width:34px;height:32px;background:#1a53d0;clip-path:path('M 17.00 2.50 L 20.60 2.50 Q 23.20 2.60 24.00 5.40 L 25.40 9.80 L 19.40 9.90 Q 17.20 10.00 16.20 12.00 L 17.40 5.00 Q 17.60 3.00 19.60 2.50 Z')"></div><div class="abs" style="left:0;top:0;width:34px;height:32px;background:linear-gradient(195deg,#b05acd 0%,#b05acd 40%,#e0589a 48%,#e65c96 60%,#f2705e 68%,#ff9f55 76%,#ff9f55 100%);clip-path:path('M 22.80 10.40 L 28.80 10.40 Q 32.20 10.60 31.60 14.40 Q 30.60 20.40 28.60 25.80 Q 27.40 28.80 24.80 28.90 L 13.20 28.90 Q 10.60 28.80 9.80 26.00 L 8.20 21.40 L 14.20 21.40 Q 16.40 21.40 17.20 19.20 L 20.20 12.00 Q 21.00 10.40 22.80 10.40 Z')"></div><div class="abs" style="left:0;top:0;width:34px;height:32px;background:#f9612a;clip-path:path('M 8.40 21.40 L 14.20 21.40 Q 16.40 21.40 17.40 19.40 L 16.00 26.40 Q 15.80 28.40 13.80 28.90 L 13.20 28.90 Q 10.60 28.80 9.80 26.00 Z')"></div></div>
<div class="t" style="font-family:'Liberation Sans',sans-serif;font-size:22.6px;line-height:25.00px;color:#1f1f1f;left:1264.74px;top:838.50px;transform:scaleX(1.0606);transform-origin:0 0;-webkit-text-stroke:0.7px #1f1f1f;">Copilot</div>
<div class="abs" style="left:1353.9px;top:836.50px;width:294.6px;height:29.6px;background:#ebebeb;border-radius:6px"></div>
<div class="t" style="font-family:'Liberation Sans',sans-serif;font-size:16.6px;line-height:19.00px;color:#6b6b6b;left:1361.00px;top:843.10px;transform:scaleX(0.9921);transform-origin:0 0;">AI-generated content may be incorrect</div>
<div class="t" style="font-family:'Liberation Sans',sans-serif;font-size:23.2px;line-height:26.00px;color:#2b2b2b;left:1219.30px;top:228.20px;letter-spacing:-0.177px;">Here's what I inserted in <span style="color:#0f7b3f;text-decoration:underline;text-decoration-thickness:1.3px;text-underline-offset:2.2px">A44</span>:</div>
<svg style="left:1215px;top:286px" width="220" height="34" viewBox="1215 286 220 34"><path d="M1224.81 292.10 L1220.10 292.10 L1220.10 315.00 L1224.81 315.00 M1240.19 292.10 L1244.90 292.10 L1244.90 315.00 L1240.19 315.00" stroke="#2a2a2a" stroke-width="1.7" fill="none"/><text transform="translate(1224.55 308.34) scale(0.66 1)" style="font-family:'Liberation Sans',sans-serif;font-size:13.65px;font-weight:bold;letter-spacing:4.06px" fill="#2a2a2a" stroke="#2a2a2a" stroke-width="0.6" stroke-linejoin="round">PY</text><path d="M1406.4 299.8 L1413.6 306.6 L1420.8 299.8" stroke="#616161" stroke-width="1.4" fill="none"/></svg>
<div class="t" style="font-family:'Liberation Sans',sans-serif;font-size:20.2px;line-height:22.00px;color:#616161;left:1267.40px;top:294.00px;transform:scaleX(0.9167);transform-origin:0 0;">Show analysis</div>
<svg style="left:1218.9px;top:334.6px" width="747.22" height="371.09" viewBox="0 0 1008.4 500.8"><rect x="0" y="0" width="1008.4" height="500.8" fill="#fdfdfd"/>
<g stroke="#000" stroke-width="1.1" fill="none">
<line x1="170.10" y1="446.10" x2="170.10" y2="451.50"/>
<line x1="291.75" y1="446.10" x2="291.75" y2="451.50"/>
<line x1="413.57" y1="446.10" x2="413.57" y2="451.50"/>
<line x1="535.22" y1="446.10" x2="535.22" y2="451.50"/>
<line x1="657.03" y1="446.10" x2="657.03" y2="451.50"/>
<line x1="778.68" y1="446.10" x2="778.68" y2="451.50"/>
<line x1="900.50" y1="446.10" x2="900.50" y2="451.50"/>
<line x1="61.90" y1="430.00" x2="67.30" y2="430.00"/>
<line x1="61.90" y1="357.74" x2="67.30" y2="357.74"/>
<line x1="61.90" y1="285.48" x2="67.30" y2="285.48"/>
<line x1="61.90" y1="213.22" x2="67.30" y2="213.22"/>
<line x1="61.90" y1="140.96" x2="67.30" y2="140.96"/>
<line x1="61.90" y1="68.70" x2="67.30" y2="68.70"/>
</g>
<g style="font-family:'DejaVu Sans','Liberation Sans',sans-serif;font-size:13.7px" fill="#111">
<text x="170.10" y="465.70" text-anchor="middle">1950</text>
<text x="291.75" y="465.70" text-anchor="middle">1952</text>
<text x="413.57" y="465.70" text-anchor="middle">1954</text>
<text x="535.22" y="465.70" text-anchor="middle">1956</text>
<text x="657.03" y="465.70" text-anchor="middle">1958</text>
<text x="778.68" y="465.70" text-anchor="middle">1960</text>
<text x="900.50" y="465.70" text-anchor="middle">1962</text>
<text x="56.70" y="435.20" text-anchor="end">100</text>
<text x="56.70" y="362.94" text-anchor="end">200</text>
<text x="56.70" y="290.68" text-anchor="end">300</text>
<text x="56.70" y="218.42" text-anchor="end">400</text>
<text x="56.70" y="146.16" text-anchor="end">500</text>
<text x="56.70" y="73.90" text-anchor="end">600</text>
<text x="533.00" y="485.70" text-anchor="middle">Month</text>
<text transform="translate(20.4 240.15) rotate(-90)" text-anchor="middle">Number of Passengers</text>
</g>
<text x="533.00" y="24.70" text-anchor="middle" style="font-family:'DejaVu Sans','Liberation Sans',sans-serif;font-size:16.6px" fill="#000">Holt's Linear Trend Forecast for Airline Passengers</text>
<polyline points="109.27,421.33 114.44,416.99 119.11,406.88 124.27,409.04 129.27,414.83 134.44,404.71 139.44,395.32 144.60,395.32 149.77,403.99 154.77,416.27 159.93,427.11 164.93,416.99 170.10,419.16 175.27,411.21 179.93,400.37 185.10,404.71 190.10,411.93 195.26,394.59 200.26,379.42 205.43,379.42 210.59,388.09 215.59,406.15 220.76,419.88 225.76,401.10 230.93,397.48 236.09,393.87 240.76,373.64 245.92,384.48 250.92,377.97 256.09,373.64 261.09,358.46 266.25,358.46 271.42,369.30 276.42,385.20 281.58,396.76 286.58,382.31 291.75,378.70 296.92,372.19 301.75,362.80 306.91,371.47 311.91,370.02 317.08,344.73 322.08,336.06 327.25,327.39 332.41,351.24 337.41,364.24 342.58,377.97 347.58,362.08 352.74,360.63 357.91,360.63 362.57,331.73 367.74,332.45 372.74,336.78 377.90,326.67 382.90,311.49 388.07,305.71 393.24,331.00 398.24,349.79 403.40,372.19 408.40,357.02 413.57,354.85 418.73,366.41 423.40,332.45 428.56,338.23 433.56,333.17 438.73,311.49 443.73,284.03 448.90,290.54 454.06,315.11 459.06,336.78 464.23,355.57 469.23,336.78 474.39,327.39 479.56,333.89 484.22,309.33 489.39,307.88 494.39,307.16 499.55,274.64 504.55,239.23 509.72,251.52 514.89,276.81 519.89,304.27 525.05,331.00 530.05,301.38 535.22,297.04 540.38,302.10 545.22,273.20 550.38,276.09 555.38,272.47 560.55,232.01 565.55,203.83 570.71,209.61 575.88,245.74 580.88,281.14 586.04,306.44 591.04,281.14 596.21,274.64 601.37,284.76 606.04,245.01 611.21,250.80 616.21,245.74 621.37,197.32 626.37,166.25 631.54,164.81 636.70,210.33 641.70,251.52 646.87,281.87 651.87,259.47 657.03,256.58 662.20,272.47 666.87,240.68 672.03,250.80 677.03,239.96 682.20,187.93 687.20,147.46 692.36,137.35 697.53,210.33 702.53,242.85 707.69,278.25 712.69,258.74 717.86,242.12 723.02,255.13 727.69,208.88 732.86,216.11 737.86,198.77 743.02,161.19 748.02,106.28 753.19,98.33 758.35,167.70 763.35,208.16 768.52,240.68 773.52,209.61 778.68,200.94 783.85,219.72 788.68,199.49 793.85,169.14 798.85,161.19 804.01,115.67 809.01,52.80 814.18,64.36 819.34,135.18 824.34,169.14 829.51,220.45 834.51,190.10" fill="none" stroke="#1f77b4" stroke-width="2.1" stroke-linejoin="round" stroke-linecap="square"/>
<line x1="839.67" y1="188.40" x2="956.16" y2="154.30" stroke="#ff7f0e" stroke-width="2.1" stroke-dasharray="7.8 3.4"/>
<rect x="67.30" y="34.20" width="931.40" height="411.90" fill="none" stroke="#000" stroke-width="1.1"/>
<rect x="74.20" y="41.30" width="244.10" height="46.90" rx="2.8" fill="#fff" fill-opacity="0.8" stroke="#ccc" stroke-width="1.4"/>
<line x1="79.40" y1="53.10" x2="107.80" y2="53.10" stroke="#1f77b4" stroke-width="2.1"/>
<line x1="79.40" y1="74.20" x2="107.80" y2="74.20" stroke="#ff7f0e" stroke-width="2.1" stroke-dasharray="7.8 3.4"/>
<g style="font-family:'DejaVu Sans','Liberation Sans',sans-serif;font-size:13.9px" fill="#000"><text x="119.20" y="58.10">Actual</text><text x="119.20" y="79.00">Holt's Linear Trend Forecast</text></g></svg>
<div class="abs" style="left:1219.4px;top:724.9px;width:286px;height:38.7px;border:1.3px solid #c9c9c9;border-radius:5px;background:#f7fafd"></div>
<svg style="left:1235px;top:730px" width="30" height="30" viewBox="1235 730 30 30"><path d="M1241 744.3 L1260.2 744.3 M1250.6 734.7 L1250.6 753.9" stroke="#2b2b2b" stroke-width="1.5" fill="none"/></svg>
<div class="t" style="font-family:'Liberation Sans',sans-serif;font-size:21px;line-height:23.00px;color:#2b2b2b;left:1277.20px;top:734.30px;transform:scaleX(0.9269);transform-origin:0 0;">Add results to new sheet</div>
<svg style="left:1225px;top:780px" width="70" height="32" viewBox="1225 780 70 32"><path d="M1241.1 785.4 C1243.6 785.6 1244.2 788.4 1243.6 790.6 L1242.6 793.8 L1245.6 793.8 C1247.8 793.9 1248.9 795.4 1248.4 797.4 L1246.7 803.6 C1245.8 806.4 1244.4 807.8 1242.2 807.3 L1233.2 805 C1230.6 804.2 1229.4 801.8 1230 799.6 C1230.6 797.6 1232.2 796.8 1234 795.8 C1236.2 794.4 1237.6 792.4 1238.6 789.4 C1239.2 787.4 1239.8 785.5 1241.1 785.4 Z" stroke="#424242" stroke-width="1.5" fill="none" stroke-linejoin="round"/><path d="M1280.4 786.3 C1283 786.2 1284.6 787.4 1285.6 789.6 L1286.9 794.4 C1287.4 796.8 1286.2 798.6 1284 798.8 L1281.9 799 L1282.3 803.6 C1282.4 805.8 1281.6 807.6 1280.2 807.7 C1278.9 807.6 1278.4 806 1277.6 803.8 C1276.4 800.6 1274.8 798.4 1272 796.6 C1270.2 795.6 1268.8 795 1268.9 793 C1269 791 1269.8 789.6 1271.8 788.8 Z" stroke="#424242" stroke-width="1.5" fill="none" stroke-linejoin="round"/></svg>
<svg style="left:1225px;top:1141.6px" width="70" height="32" viewBox="1225 780 70 32"><path d="M1241.1 785.4 C1243.6 785.6 1244.2 788.4 1243.6 790.6 L1242.6 793.8 L1245.6 793.8 C1247.8 793.9 1248.9 795.4 1248.4 797.4 L1246.7 803.6 C1245.8 806.4 1244.4 807.8 1242.2 807.3 L1233.2 805 C1230.6 804.2 1229.4 801.8 1230 799.6 C1230.6 797.6 1232.2 796.8 1234 795.8 C1236.2 794.4 1237.6 792.4 1238.6 789.4 C1239.2 787.4 1239.8 785.5 1241.1 785.4 Z" stroke="#424242" stroke-width="1.5" fill="none" stroke-linejoin="round"/><path d="M1280.4 786.3 C1283 786.2 1284.6 787.4 1285.6 789.6 L1286.9 794.4 C1287.4 796.8 1286.2 798.6 1284 798.8 L1281.9 799 L1282.3 803.6 C1282.4 805.8 1281.6 807.6 1280.2 807.7 C1278.9 807.6 1278.4 806 1277.6 803.8 C1276.4 800.6 1274.8 798.4 1272 796.6 C1270.2 795.6 1268.8 795 1268.9 793 C1269 791 1269.8 789.6 1271.8 788.8 Z" stroke="#424242" stroke-width="1.5" fill="none" stroke-linejoin="round"/></svg>
<div class="t" style="font-family:'Liberation Sans',sans-serif;font-size:23.2px;line-height:26.00px;color:#2b2b2b;left:1219.30px;top:892.00px;letter-spacing:-0.065px;">The plot shows that Holt’s linear trend method produces a forecast that</div>
<div class="t" style="font-family:'Liberation Sans',sans-serif;font-size:23.2px;line-height:26.00px;color:#2b2b2b;left:1219.30px;top:925.00px;letter-spacing:-0.040px;">follows the upward trend in the airline passenger data, making it more</div>
<div class="t" style="font-family:'Liberation Sans',sans-serif;font-size:23.2px;line-height:26.00px;color:#2b2b2b;left:1219.30px;top:958.00px;letter-spacing:-0.299px;">accurate than the flat forecast from SES. However, the forecast is still a</div>
<div class="t" style="font-family:'Liberation Sans',sans-serif;font-size:23.2px;line-height:26.00px;color:#2b2b2b;left:1219.30px;top:991.00px;letter-spacing:-0.129px;">smooth line and does not capture the repeating seasonal ups and</div>
<div class="t" style="font-family:'Liberation Sans',sans-serif;font-size:23.2px;line-height:26.00px;color:#2b2b2b;left:1219.30px;top:1023.00px;letter-spacing:-0.244px;">downs seen in the actual data. This is because Holt’s method only</div>
<div class="t" style="font-family:'Liberation Sans',sans-serif;font-size:23.2px;line-height:26.00px;color:#2b2b2b;left:1218.30px;top:1056.00px;letter-spacing:-0.078px;">models the trend and ignores seasonality, so it cannot reflect the regular</div>
<div class="t" style="font-family:'Liberation Sans',sans-serif;font-size:23.2px;line-height:26.00px;color:#2b2b2b;left:1219.30px;top:1089.00px;letter-spacing:-0.126px;">fluctuations that occur each year.</div>
<svg style="left:1480px;top:1232px" width="32" height="30" viewBox="1480 1232 32 30"><path d="M1499.4 1236 L1488 1236 Q1484.3 1236 1484.3 1239.7 L1484.3 1253.8 Q1484.3 1257.5 1488 1257.5 L1499.4 1257.5 M1490.2 1246.75 L1507.6 1246.75 M1501.2 1240.4 L1507.7 1246.75 L1501.2 1253" stroke="#505050" stroke-width="1.6" fill="none"/></svg>
<div class="t" style="font-family:'Liberation Sans',sans-serif;font-size:20.2px;line-height:22.00px;color:#616161;left:1518.80px;top:1238.00px;transform:scaleX(0.9337);transform-origin:0 0;">Stop advanced analysis</div>
</body></html>
